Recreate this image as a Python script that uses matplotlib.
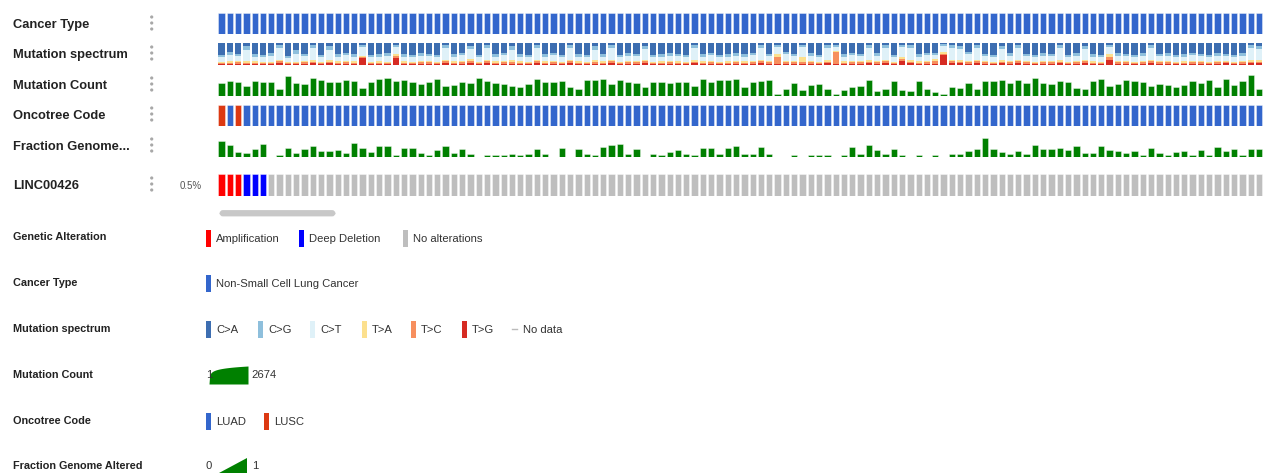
import numpy as np
import matplotlib
matplotlib.use("Agg")
import matplotlib.pyplot as plt
from matplotlib.patches import Rectangle, FancyBboxPatch, Circle, Polygon

plt.rcParams['font.family'] = ['Liberation Sans', 'DejaVu Sans']

# ---- per-sample data (126 samples) ----
cancer_type = ['Non-Small Cell Lung Cancer'] * 126
oncotree = ['LUSC', 'LUAD', 'LUSC'] + ['LUAD'] * 123
alteration = ['amp'] * 3 + ['homdel'] * 3 + ['none'] * 120
altered_pct = '0.5%'

mutation_count = [
    130, 286, 193, 40, 372, 193, 193, 14, 2056, 148, 100, 934, 484, 193, 251, 484, 372, 21, 193, 718, 934,
    286, 484, 193, 100, 193, 718, 52, 67, 193, 148, 934, 286, 148, 100, 52, 35, 100, 718, 251, 251, 372,
    35, 14, 484, 484, 718, 100, 484, 193, 130, 35, 193, 193, 130, 193, 193, 52, 718, 251, 484, 484, 718,
    35, 193, 372, 484, 2, 14, 148, 11, 67, 100, 14, 2, 11, 35, 52, 484, 7, 14, 286, 9, 6,
    286, 14, 4, 2, 35, 21, 148, 14, 286, 286, 484, 148, 484, 130, 934, 148, 100, 286, 193, 21, 14,
    372, 718, 52, 100, 484, 286, 193, 40, 100, 77, 35, 67, 286, 148, 484, 35, 718, 77, 372, 2674, 14,
]
nan = np.nan
fraction_altered = [
    .77, .55, .22, .15, .35, .60, nan, .05, .43, .18, .35, .52, .27, .27, .32, .18, .65, .40, .23, .52, .52,
    .05, .40, .40, .17, .05, .30, .50, .17, .37, .13, nan, .05, .05, .05, .13, .05, .13, .37, .10, nan, .40,
    nan, .35, .13, .05, .47, .55, .60, .13, .38, nan, .13, .07, .22, .30, .13, .05, .40, .40, .13, .40, .52,
    .13, .13, .47, .10, nan, nan, .08, nan, .05, .05, .05, nan, .05, .47, .10, .58, .30, .13, .37, .07, nan,
    .07, nan, .05, nan, .13, .13, .25, .37, .88, .37, .20, .10, .27, .10, .55, .37, .37, .43, .33, .50, .17,
    .17, .50, .30, .27, .17, .27, .05, .43, .17, .05, .20, .27, .05, .30, .05, .47, .27, .37, .05, .37, .37,
]

# mutation spectrum fractions per sample
spec_ca = [
    .55, .40, .50, .12, .50, .55, .45, .10, .60, .30, .50, .10, .55, .12, .50, .45, .50, .08, .55, .50, .45,
    .10, .50, .55, .45, .50, .55, .10, .50, .45, .12, .55, .10, .50, .45, .12, .50, .55, .10, .50, .45, .55,
    .10, .50, .55, .12, .50, .10, .55, .45, .50, .12, .55, .50, .45, .50, .55, .10, .50, .45, .55, .50, .45,
    .50, .45, .10, .50, .08, .40, .50, .10, .45, .55, .10, .08, .50, .45, .50, .10, .45, .10, .55, .08, .10,
    .50, .45, .45, .05, .10, .12, .40, .10, .50, .55, .12, .45, .10, .50, .55, .45, .50, .10, .55, .45, .12,
    .50, .55, .08, .45, .50, .55, .45, .10, .50, .45, .55, .50, .45, .50, .55, .45, .50, .55, .45, .10, .12,
]
spec_cg = [
    .10, .15, .10, .20, .12, .10, .15, .12, .08, .20, .10, .15, .10, .18, .12, .10, .12, .10, .10, .12, .15,
    .08, .12, .10, .12, .10, .10, .15, .12, .10, .15, .10, .15, .12, .10, .18, .12, .10, .15, .12, .10, .10,
    .15, .12, .10, .18, .12, .15, .10, .12, .10, .15, .10, .12, .12, .10, .10, .15, .12, .10, .10, .12, .12,
    .12, .10, .15, .10, .10, .12, .10, .10, .12, .10, .15, .08, .12, .10, .10, .15, .12, .15, .10, .12, .15,
    .12, .10, .10, .08, .15, .15, .12, .15, .10, .10, .15, .12, .15, .10, .10, .12, .10, .15, .10, .12, .15,
    .12, .10, .10, .12, .10, .10, .12, .15, .10, .12, .10, .12, .10, .10, .10, .12, .10, .10, .12, .15, .15,
]
spec_ct = [
    .20, .28, .22, .50, .22, .20, .25, .55, .18, .35, .22, .52, .20, .48, .22, .25, .22, .40, .20, .22, .25,
    .30, .22, .20, .25, .22, .20, .52, .22, .25, .45, .20, .52, .22, .25, .48, .22, .20, .52, .22, .25, .20,
    .52, .22, .20, .48, .22, .52, .20, .25, .22, .50, .20, .22, .25, .22, .20, .52, .22, .25, .20, .22, .25,
    .22, .25, .52, .22, .35, .30, .22, .45, .25, .20, .52, .20, .22, .25, .22, .52, .25, .52, .20, .45, .52,
    .22, .25, .20, .30, .52, .50, .28, .52, .22, .20, .50, .25, .52, .22, .20, .25, .22, .52, .20, .25, .50,
    .22, .20, .35, .25, .22, .20, .25, .52, .22, .25, .20, .22, .25, .22, .20, .25, .22, .20, .25, .52, .50,
]
spec_ta = [
    .05, .06, .06, .07, .06, .05, .05, .07, .05, .05, .06, .08, .05, .07, .06, .07, .05, .05, .05, .06, .06,
    .12, .06, .05, .06, .06, .05, .07, .05, .06, .10, .05, .07, .06, .07, .08, .06, .05, .07, .06, .07, .05,
    .07, .05, .06, .08, .05, .07, .05, .06, .06, .07, .05, .06, .06, .07, .05, .08, .06, .06, .05, .06, .06,
    .05, .07, .07, .06, .15, .08, .06, .20, .06, .05, .08, .04, .06, .07, .06, .08, .06, .07, .05, .08, .08,
    .06, .07, .08, .05, .07, .08, .07, .07, .06, .05, .08, .06, .07, .06, .05, .06, .06, .08, .05, .06, .07,
    .06, .05, .12, .06, .06, .05, .06, .07, .05, .06, .05, .06, .07, .06, .05, .06, .05, .06, .06, .08, .08,
]
spec_tc = [
    .06, .07, .07, .07, .06, .06, .06, .08, .05, .06, .07, .08, .06, .08, .06, .08, .06, .07, .05, .06, .05,
    .10, .06, .06, .08, .07, .06, .08, .07, .08, .10, .06, .08, .06, .08, .08, .06, .06, .08, .06, .08, .06,
    .08, .07, .05, .08, .07, .08, .06, .07, .08, .08, .06, .06, .07, .06, .06, .08, .06, .08, .06, .06, .07,
    .07, .08, .08, .07, .35, .08, .07, .10, .07, .06, .08, .55, .06, .08, .07, .08, .07, .08, .06, .10, .08,
    .06, .08, .15, .07, .08, .08, .07, .08, .07, .06, .08, .07, .08, .07, .06, .07, .07, .08, .06, .07, .08,
    .06, .06, .15, .07, .07, .06, .07, .08, .07, .06, .06, .06, .07, .07, .06, .07, .06, .05, .07, .08, .08,
]
spec_tg = [
    .04, .04, .05, .04, .04, .04, .04, .08, .04, .04, .05, .07, .04, .07, .04, .05, .05, .30, .05, .04, .04,
    .30, .04, .04, .04, .05, .04, .08, .04, .06, .08, .04, .08, .04, .05, .06, .04, .04, .08, .04, .05, .04,
    .08, .04, .04, .06, .04, .08, .04, .05, .04, .08, .04, .04, .05, .05, .04, .07, .04, .06, .04, .04, .05,
    .04, .05, .08, .05, .05, .04, .05, .05, .05, .04, .07, .05, .04, .05, .05, .07, .05, .08, .04, .20, .07,
    .04, .05, .05, .45, .08, .07, .06, .08, .05, .04, .07, .05, .08, .05, .04, .05, .05, .07, .04, .05, .08,
    .04, .04, .25, .05, .05, .04, .05, .08, .06, .06, .04, .05, .06, .05, .04, .05, .07, .04, .05, .07, .07,
]

spectrum_labels = ['C>A', 'C>G', 'C>T', 'T>A', 'T>C', 'T>G']
spectrum_colors = ['#3d6eb1', '#8ebfdc', '#dff1f8', '#fce08e', '#f78f5e', '#d62b23']
cancer_colors = {'Non-Small Cell Lung Cancer': '#3366cc'}
oncotree_colors = {'LUAD': '#3366cc', 'LUSC': '#dc3912'}
alteration_colors = {'amp': '#ff0000', 'homdel': '#0000ff', 'none': '#bebebe'}
green = '#008000'
max_count = 2674

# ---- figure in pixel units ----
W, H = 1263, 473
fig = plt.figure(figsize=(W / 100, H / 100), dpi=100)
base = fig.add_axes([0, 0, 1, 1])
base.set_xlim(0, W)
base.set_ylim(H, 0)
base.axis('off')

n = len(mutation_count)
idx = np.arange(n)
X0, PITCH, BW = 218.3, 8.3, 0.76
edge = (1, 1, 1, 0.45)


def track_ax(top, bottom):
    ax = fig.add_axes([X0 / W, 1 - bottom / H, n * PITCH / W, (bottom - top) / H])
    ax.set_xlim(0, n)
    ax.axis('off')
    return ax


# cancer type
ax = track_ax(13, 34)
ax.set_ylim(0, 1)
ax.bar(idx, 1, width=BW, align='edge', color=[cancer_colors[c] for c in cancer_type],
       edgecolor=edge, linewidth=0.6)

# mutation spectrum (stacked, T>G at the bottom, C>A on top)
ax = track_ax(43, 65)
ax.set_ylim(0, 1)
spec = np.array([spec_ca, spec_cg, spec_ct, spec_ta, spec_tc, spec_tg])
spec = spec / spec.sum(axis=0)
bottom = np.zeros(n)
for k in range(5, -1, -1):
    ax.bar(idx, spec[k], bottom=bottom, width=BW, align='edge', color=spectrum_colors[k], linewidth=0)
    bottom += spec[k]

# mutation count, log scale
ax = track_ax(75.5, 96)
ax.set_yscale('log')
ax.set_ylim(1, max_count)
mc = np.array(mutation_count, dtype=float)
ax.bar(idx, mc - 1, bottom=1, width=BW, align='edge', color=green, edgecolor=edge, linewidth=0.6)

# oncotree code
ax = track_ax(105, 126)
ax.set_ylim(0, 1)
ax.bar(idx, 1, width=BW, align='edge', color=[oncotree_colors[c] for c in oncotree],
       edgecolor=edge, linewidth=0.6)

# fraction genome altered
ax = track_ax(136, 156.5)
ax.set_ylim(0, 1)
fg = np.array(fraction_altered)
ok = ~np.isnan(fg)
ax.bar(idx[ok], fg[ok], width=BW, align='edge', color=green, edgecolor=edge, linewidth=0.6)

# LINC00426 alterations
ax = track_ax(174, 196)
ax.set_ylim(0, 1)
ax.bar(idx, 1, width=BW, align='edge', color=[alteration_colors[a] for a in alteration],
       edgecolor=edge, linewidth=0.6)

# ---- track labels and menu dots ----
track_labels = ['Cancer Type', 'Mutation spectrum', 'Mutation Count', 'Oncotree Code',
                'Fraction Genome...', 'LINC00426']
label_y = [23, 53, 84, 114, 145, 184]
for lab, y in zip(track_labels, label_y):
    base.text(13, y + 4.6, lab, fontsize=9.3, fontweight='bold', color='#222222',
              va='baseline', ha='left')
    for dy in (-6, 0, 6):
        base.add_patch(Circle((151.7, y + dy), 1.6, color='#a8a8a8', lw=0))
base.text(180, 188.5, altered_pct, fontsize=7, color='#555555', va='baseline', ha='left')

# horizontal scrollbar
base.add_patch(FancyBboxPatch((221, 211.5), 113, 3.5, boxstyle='round,pad=0,rounding_size=2',
                              fc='#c8c8c8', ec='#c8c8c8', lw=2))

# ---- legend ----
leg_font = dict(fontsize=8.1, color='#333333', va='baseline', ha='left')


def swatch(x, y, color, h=17, w=5):
    base.add_patch(Rectangle((x, y - h / 2), w, h, color=color, lw=0))


legend_titles = ['Genetic Alteration', 'Cancer Type', 'Mutation spectrum', 'Mutation Count',
                 'Oncotree Code', 'Fraction Genome Altered']
legend_y = [236, 282, 328, 374, 420, 465]
for lab, y in zip(legend_titles, legend_y):
    base.text(13, y + 3.9, lab, fontsize=7.8, fontweight='bold', color='#222222',
              va='baseline', ha='left')

# genetic alteration
y = 238
for x, key, lab in [(206, 'amp', 'Amplification'), (299, 'homdel', 'Deep Deletion'),
                    (403, 'none', 'No alterations')]:
    swatch(x, y, alteration_colors[key])
    base.text(x + 10, y + 4, lab, **leg_font)

# cancer type
y = 283
swatch(206, y, cancer_colors['Non-Small Cell Lung Cancer'])
base.text(216, y + 4, 'Non-Small Cell Lung Cancer', **leg_font)

# mutation spectrum
y = 329
for x, lab, col in zip([206, 258, 310, 362, 411, 462], spectrum_labels, spectrum_colors):
    swatch(x, y, col)
    base.text(x + 10, y + 4, lab, **leg_font)
base.plot([512, 517], [y, y], color='#bbbbbb', lw=1)
base.text(523, y + 4, 'No data', **leg_font)

# mutation count scale (log curve)
y = 374
xs = np.linspace(0, 1, 60)
curve = np.log(1 + xs * (max_count - 1)) / np.log(max_count)
px = 209 + 39 * xs
base.text(206, y + 4, '1', **leg_font)
base.fill_between(px, 384, 384 - 18 * curve, color=green, lw=0)
base.text(251, y + 4, str(max_count), **leg_font)

# oncotree code
y = 421
swatch(206, y, oncotree_colors['LUAD'])
base.text(216, y + 4, 'LUAD', **leg_font)
swatch(264, y, oncotree_colors['LUSC'])
base.text(274, y + 4, 'LUSC', **leg_font)

# fraction genome altered scale (linear)
y = 465
base.add_patch(Polygon([(219, 473), (247, 473), (247, 458)], closed=True, color=green, lw=0))
base.text(206, y + 4, '0', **leg_font)
base.text(252, y + 4, '1', **leg_font)

fig.savefig('out.png', dpi=100)
